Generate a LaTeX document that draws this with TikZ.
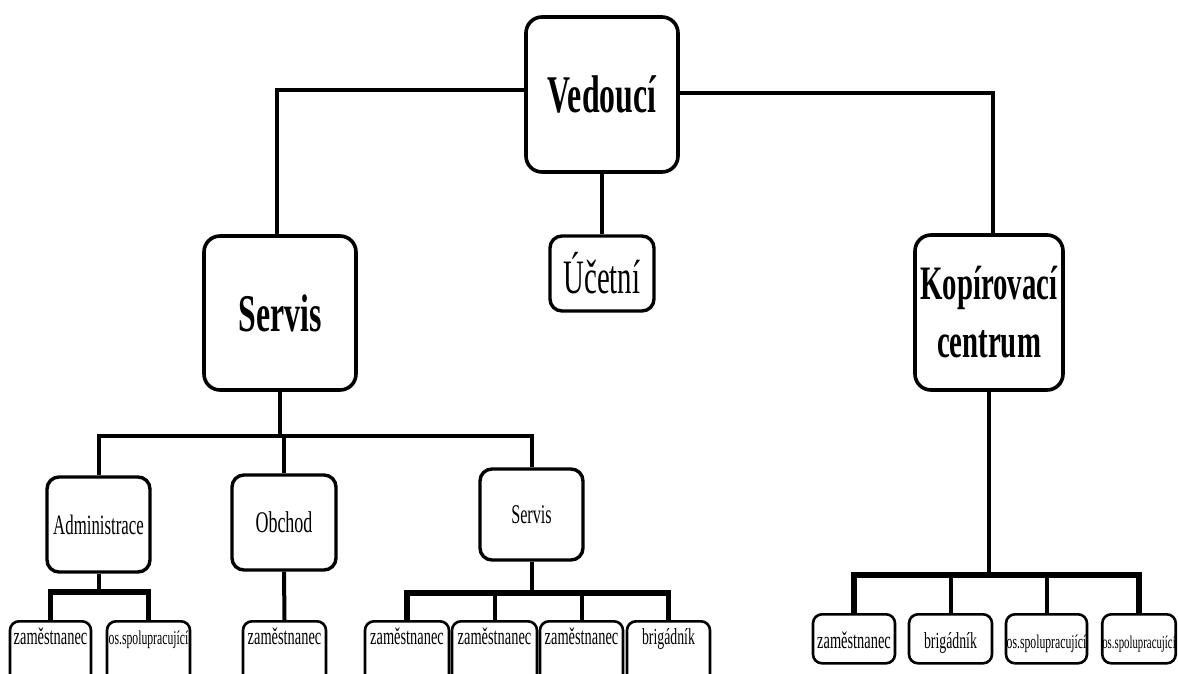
\documentclass[tikz,border=0pt]{standalone}
\usepackage{fontspec}
\setmainfont{Liberation Serif}[FakeStretch=0.6]
\begin{document}
\begin{tikzpicture}[x=1pt,y=-1pt,
  box/.style={draw=black, line width=3.6pt, rounded corners=16pt, fill=white, inner sep=0pt, align=center},
  mid/.style={draw=black, line width=3.4pt, rounded corners=12pt, fill=white, inner sep=0pt, align=center},
  leaf/.style={draw=black, line width=2.6pt, rounded corners=9pt, fill=white, inner xsep=0pt, inner ysep=3pt, align=center},
  med/.style={font=\fontsize{28}{32}\selectfont},
  sm/.style={font=\fontsize{24}{28}\selectfont},
  tiny/.style={font=\fontsize{19.5}{24}\selectfont},
  conn/.style={line width=4pt, line join=miter},
  bus/.style={line width=5.5pt, line join=miter}
]
\clip (0,0) rectangle (1178,673);
\fill[white] (0,0) rectangle (1178,673);

\coordinate (topL) at (277,90);
\coordinate (topR) at (993,93);
\coordinate (sb) at (0,436);
\coordinate (ab) at (0,592);
\coordinate (svb) at (0,593);
\coordinate (kb) at (0,575);

% nodes
\node[box, minimum width=152pt, minimum height=155pt, font=\fontsize{53}{60}\selectfont\bfseries] (ved) at (602,94.5) {Vedoucí};
\node[box, minimum width=152pt, minimum height=154pt, font=\fontsize{53}{60}\selectfont\bfseries] (srv) at (280,313) {Servis};
\node[mid, minimum width=104pt, minimum height=75pt, font=\fontsize{48}{56}\selectfont] (uc) at (602,273.5) {Účetní};
\node[box, minimum width=148pt, minimum height=155pt, font=\fontsize{48}{60}\selectfont\bfseries] (kop) at (989,312.5) {Kopírovací\\[-2pt]centrum};

\node[mid, minimum width=103pt, minimum height=95pt, med] (adm) at (98.5,524.5) {Administrace};
\node[mid, minimum width=104pt, minimum height=95pt, font=\fontsize{30}{34}\selectfont] (obc) at (284,522.5) {Obchod};
\node[mid, minimum width=103pt, minimum height=91pt, font=\fontsize{27}{32}\selectfont] (srs) at (531.5,514.5) {Servis};

% bottom left leaves (cut by lower edge)
\tikzset{lowleaf/.style={leaf, anchor=north, text height=20pt, text depth=50pt}}
\node[lowleaf, minimum width=81pt, sm] (a1) at (50.5,620) {zaměstnanec};
\node[lowleaf, minimum width=83pt, tiny] (a2) at (148.5,620) {os.spolupracující};
\node[lowleaf, minimum width=83pt, sm] (o1) at (284.5,620) {zaměstnanec};
\node[lowleaf, minimum width=84pt, sm] (s1) at (407,620) {zaměstnanec};
\node[lowleaf, minimum width=85pt, sm] (s2) at (494.5,620) {zaměstnanec};
\node[lowleaf, minimum width=83pt, sm] (s3) at (581.5,620) {zaměstnanec};
\node[lowleaf, minimum width=83pt, font=\fontsize{23}{28}\selectfont] (s4) at (668.5,620) {brigádník};

% bottom right leaves
\tikzset{rleaf/.style={leaf, anchor=north, text height=31pt, text depth=12pt}}
\node[rleaf, minimum width=82pt, sm] (k1) at (854,613) {zaměstnanec};
\node[rleaf, minimum width=83pt, font=\fontsize{23}{28}\selectfont] (k2) at (950.5,613) {brigádník};
\node[rleaf, minimum width=81pt, tiny] (k3) at (1046.5,613) {os.spolupracující};
\node[rleaf, minimum width=72pt, font=\fontsize{18}{22}\selectfont] (k4) at (1139,613) {os.spolupracující};

% connectors
\draw[conn] (ved.west |- topL) -- (topL) -- (topL |- srv.north);
\draw[conn] (ved.east |- topR) -- (topR) -- (topR |- kop.north);
\draw[conn] (ved.south) -- (uc.north);

\draw[conn] (srv.south) -- (srv.south |- sb);
\draw[conn] (adm.north) -- (adm.north |- sb) -- (srs.north |- sb) -- (srs.north);
\draw[conn] (obc.north) -- (obc.north |- sb);

\draw[conn] (adm.south) -- (adm.south |- ab);
\draw[bus] (a1.north) -- (a1.north |- ab) -- (a2.north |- ab) -- (a2.north);

\draw[conn] (obc.south) -- (o1.north);

\draw[conn] (srs.south) -- (srs.south |- svb);
\draw[bus] (s1.north) -- (s1.north |- svb) -- (s4.north |- svb) -- (s4.north);
\draw[conn] (s2.north) -- (s2.north |- svb);
\draw[conn] (s3.north) -- (s3.north |- svb);

\draw[conn] (kop.south) -- (kop.south |- kb);
\draw[bus] (k1.north) -- (k1.north |- kb) -- (k4.north |- kb) -- (k4.north);
\draw[conn] (k2.north) -- (k2.north |- kb);
\draw[conn] (k3.north) -- (k3.north |- kb);
\end{tikzpicture}
\end{document}
